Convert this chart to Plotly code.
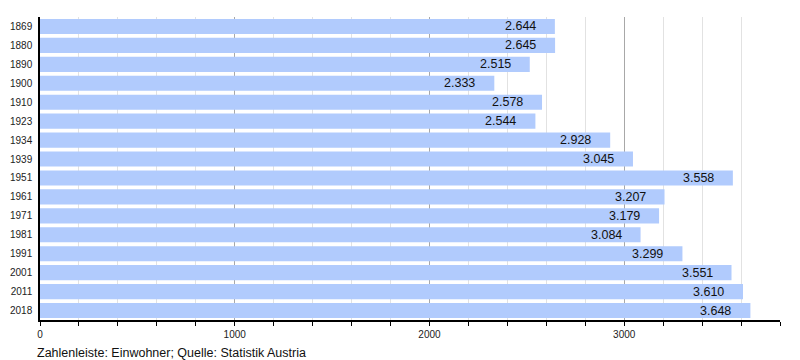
import plotly.graph_objects as go

years = ["1869", "1880", "1890", "1900", "1910", "1923", "1934", "1939",
         "1951", "1961", "1971", "1981", "1991", "2001", "2011", "2018"]
population = [2644, 2645, 2515, 2333, 2578, 2544, 2928, 3045,
              3558, 3207, 3179, 3084, 3299, 3551, 3610, 3648]
major_ticks = [0, 1000, 2000, 3000]
caption = "Zahlenleiste: Einwohner; Quelle: Statistik Austria"

FONT = "Liberation Sans, Arial, sans-serif"

def de(v):
    return f"{v:,}".replace(",", ".")

fig = go.Figure(go.Bar(
    x=population, y=years, orientation="h",
    marker=dict(color="#b1cbfd", line=dict(width=0)),
    hoverinfo="skip",
))

annotations = [
    dict(x=v, y=i, xref="x", yref="y", text=de(v), showarrow=False,
         xanchor="right", yanchor="middle", xshift=-17,
         font=dict(family=FONT, size=12.5, color="#111"))
    for i, v in enumerate(population)
]
annotations.append(dict(
    x=-5 / 740, y=-0.078, xref="paper", yref="paper", text=caption,
    showarrow=False, xanchor="left", yanchor="top",
    font=dict(family=FONT, size=12.5, color="#111")))

fig.update_layout(
    width=800, height=360,
    margin=dict(l=40, r=20, t=17, b=40),
    paper_bgcolor="white", plot_bgcolor="white",
    bargap=0.2, showlegend=False,
    annotations=annotations,
    xaxis=dict(
        range=[0, 3800], tickvals=major_ticks,
        ticktext=[str(t) for t in major_ticks],
        showgrid=True, gridcolor="#a8a8a8", gridwidth=1,
        ticks="outside", ticklen=4, tickcolor="black", tickwidth=1,
        showline=True, linecolor="black", linewidth=1.5,
        zeroline=False, automargin=False,
        tickfont=dict(family=FONT, size=10, color="#222"),
        minor=dict(dtick=200, tick0=0, showgrid=True, gridcolor="#e2e2e2",
                   gridwidth=1, ticks="outside", ticklen=4,
                   tickcolor="black"),
        fixedrange=True,
    ),
    yaxis=dict(
        type="category", categoryorder="array", categoryarray=years,
        range=[len(years) - 0.5, -0.5], autorange=False,
        showline=True, linecolor="black", linewidth=1.5,
        ticks="", showgrid=False, automargin=False,
        tickfont=dict(family=FONT, size=10, color="#222"),
        ticklabelstandoff=4,
        fixedrange=True,
    ),
)

fig.write_html(
    "out.html",
    config={"displayModeBar": False},
    post_script="document.body.style.margin='0';document.body.style.overflow='hidden';",
)
